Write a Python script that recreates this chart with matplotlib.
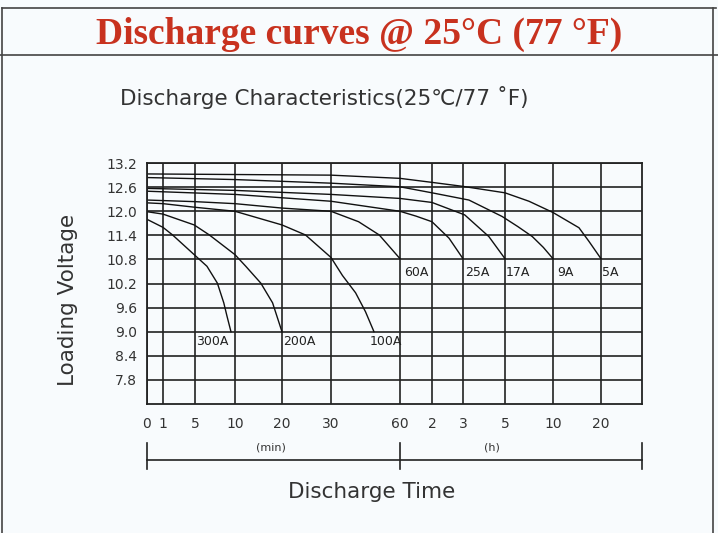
import numpy as np
import matplotlib
matplotlib.use('Agg')
import matplotlib.pyplot as plt
from matplotlib.lines import Line2D

# time axis ticks (minutes) and their labels
tick_minutes = [0, 1, 5, 10, 20, 30, 60, 120, 180, 300, 600, 1200]
tick_labels = ['0', '1', '5', '10', '20', '30', '60', '2', '3', '5', '10', '20']
volt_ticks = [7.8, 8.4, 9.0, 9.6, 10.2, 10.8, 11.4, 12.0, 12.6, 13.2]

# discharge curves: time in minutes, loading voltage in V
t_300 = [0, 1, 2.2, 4.9, 6.5, 7.8, 8.6, 9.0, 9.5]
v_300 = [11.80, 11.60, 11.41, 10.92, 10.63, 10.21, 9.72, 9.39, 9.0]
t_200 = [0, 1, 4.9, 6.8, 10, 12.3, 15.5, 18, 20]
v_200 = [11.99, 11.93, 11.66, 11.41, 10.92, 10.63, 10.21, 9.72, 9.0]
t_100 = [0, 1, 5, 10, 20, 24.8, 30, 35, 40.7, 45, 48.7]
v_100 = [12.21, 12.19, 12.10, 12.0, 11.66, 11.41, 10.85, 10.40, 9.97, 9.50, 9.0]
t_60 = [0, 5, 10, 20, 30, 42, 51, 60]
v_60 = [12.28, 12.24, 12.19, 12.08, 12.0, 11.74, 11.41, 10.82]
t_25 = [0, 10, 30, 60, 90, 120, 153, 180]
v_25 = [12.50, 12.42, 12.25, 12.0, 11.88, 11.74, 11.33, 10.82]
t_17 = [0, 10, 30, 60, 120, 185, 254, 300]
v_17 = [12.57, 12.52, 12.42, 12.32, 12.22, 11.91, 11.37, 10.82]
t_9 = [0, 10, 30, 60, 120, 197, 292, 380, 471, 540, 600]
v_9 = [12.84, 12.79, 12.70, 12.61, 12.46, 12.28, 11.87, 11.62, 11.37, 11.10, 10.82]
t_5 = [0, 30, 60, 120, 180, 300, 450, 600, 925, 1050, 1200]
v_5 = [12.93, 12.90, 12.82, 12.72, 12.62, 12.46, 12.25, 11.97, 11.59, 11.25, 10.82]

curves = [(t_300, v_300), (t_200, v_200), (t_100, v_100), (t_60, v_60),
          (t_25, v_25), (t_17, v_17), (t_9, v_9), (t_5, v_5)]
curve_names = ['300A', '200A', '100A', '60A', '25A', '17A', '9A', '5A']

# hand-drawn, non-uniform time axis -> drawing position
axis_min = tick_minutes + [2400]
axis_pos = [0, 16, 48, 88, 135, 184, 253, 285, 316, 358, 406, 454, 495]

def fwd(x):
    return np.interp(x, axis_min, axis_pos)

def inv(p):
    return np.interp(p, axis_pos, axis_min)

# where the current labels sit (minutes, volts)
label_xy = [(5.2, 8.76), (20.3, 8.76), (47, 8.76), (67, 10.48),
            (186, 10.48), (305, 10.48), (650, 10.48), (1230, 10.48)]

bg = '#f8fbfd'
ink = '#222222'
txt = '#333333'
fig = plt.figure(figsize=(7.18, 5.33), dpi=100, facecolor=bg)

# outer frame and title band
for line in [([0.003, 0.997], [0.985, 0.985]), ([0.0, 1.0], [0.897, 0.897]),
             ([0.003, 0.003], [0.0, 0.985]), ([0.993, 0.993], [0.0, 0.985])]:
    fig.add_artist(Line2D(line[0], line[1], color='#444444', lw=1.2))

fig.text(0.5, 0.935, 'Discharge curves @ 25°C (77 °F)', ha='center', va='center',
         fontsize=27, fontweight='bold', family='Liberation Serif', color='#c8321f')
fig.text(0.167, 0.818, 'Discharge Characteristics(25℃/77 ˚F)', ha='left', va='center',
         fontsize=15.5, color=txt, family=['DejaVu Sans', 'Noto Sans CJK SC'])

ax = fig.add_axes([0.2047, 0.242, 0.6894, 0.452])
ax.set_facecolor(bg)
ax.set_xscale('function', functions=(fwd, inv))
ax.set_xlim(0, 2400)
ax.set_ylim(7.2, 13.2)

for (t, v) in curves:
    ax.plot(t, v, color='#111111', lw=1.0)

for name, (lx, ly) in zip(curve_names, label_xy):
    ax.text(lx, ly, name, fontsize=9, ha='left', va='center', color=ink)

ax.set_xticks(tick_minutes)
ax.set_xticklabels(tick_labels)
ax.set_yticks(volt_ticks)
ax.set_yticklabels([f'{v:.1f}' for v in volt_ticks])
ax.tick_params(axis='both', which='both', length=0, labelsize=10, colors=txt)
ax.tick_params(axis='x', pad=9)
ax.tick_params(axis='y', pad=7)
ax.grid(True, color=ink, lw=1.2)
for s in ax.spines.values():
    s.set_color(ink)
    s.set_linewidth(1.3)

fig.text(0.095, 0.437, 'Loading Voltage', rotation=90, ha='center', va='center',
         fontsize=15.5, color=txt)
fig.text(0.518, 0.076, 'Discharge Time', ha='center', va='center',
         fontsize=15.5, color=txt)

# min / h bracket under the axis
tr = ax.get_xaxis_transform()
ax.plot([0, 2400], [-0.232, -0.232], color=ink, lw=1.2, transform=tr, clip_on=False)
for xv in [0, 60, 2400]:
    ax.plot([xv, xv], [-0.162, -0.27], color=ink, lw=1.2, transform=tr, clip_on=False)
ax.text(17.7, -0.18, '(min)', fontsize=8, ha='center', va='center', transform=tr, color=txt)
ax.text(263, -0.18, '(h)', fontsize=8, ha='center', va='center', transform=tr, color=txt)

fig.savefig('out.png', dpi=100, facecolor=bg)
